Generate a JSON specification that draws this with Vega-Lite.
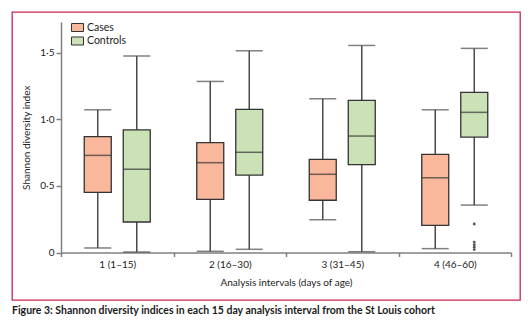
{
  "$schema": "https://vega.github.io/schema/vega-lite/v6.json",
  "width": 508,
  "height": 288,
  "autosize": "none",
  "padding": {"left": 12, "top": 12, "right": 8, "bottom": 22},
  "background": "white",
  "config": {
    "view": {"stroke": "#c9274f", "strokeWidth": 1.3},
    "font": "Lato"
  },
  "title": {
    "text": "Figure 3: Shannon diversity indices in each 15 day analysis interval from the St Louis cohort",
    "orient": "bottom",
    "anchor": "start",
    "fontSize": 10.5,
    "fontWeight": "bold",
    "font": "Lato",
    "color": "#1a1a1a",
    "offset": 6
  },
  "datasets": {
    "boxes": [
      {"interval": "1 (1–15)", "group": "Cases", "lo": 0.034, "q1": 0.452, "med": 0.729, "q3": 0.869, "hi": 1.071},
      {"interval": "1 (1–15)", "group": "Controls", "lo": 0.004, "q1": 0.229, "med": 0.624, "q3": 0.921, "hi": 1.474},
      {"interval": "2 (16–30)", "group": "Cases", "lo": 0.009, "q1": 0.399, "med": 0.674, "q3": 0.824, "hi": 1.284},
      {"interval": "2 (16–30)", "group": "Controls", "lo": 0.024, "q1": 0.581, "med": 0.752, "q3": 1.074, "hi": 1.514},
      {"interval": "3 (31–45)", "group": "Cases", "lo": 0.246, "q1": 0.392, "med": 0.587, "q3": 0.699, "hi": 1.154},
      {"interval": "3 (31–45)", "group": "Controls", "lo": 0.006, "q1": 0.659, "med": 0.874, "q3": 1.142, "hi": 1.554},
      {"interval": "4 (46–60)", "group": "Cases", "lo": 0.029, "q1": 0.204, "med": 0.561, "q3": 0.737, "hi": 1.071},
      {"interval": "4 (46–60)", "group": "Controls", "lo": 0.356, "q1": 0.866, "med": 1.052, "q3": 1.202, "hi": 1.532}
    ],
    "outliers": [
      {"interval": "4 (46–60)", "group": "Controls", "value": 0.214},
      {"interval": "4 (46–60)", "group": "Controls", "value": 0.078},
      {"interval": "4 (46–60)", "group": "Controls", "value": 0.058},
      {"interval": "4 (46–60)", "group": "Controls", "value": 0.040},
      {"interval": "4 (46–60)", "group": "Controls", "value": 0.022}
    ]
  },
  "encoding": {
    "x": {
      "field": "interval",
      "type": "nominal",
      "sort": ["1 (1–15)", "2 (16–30)", "3 (31–45)", "4 (46–60)"],
      "scale": {"range": [49, 499], "paddingInner": 0, "paddingOuter": 0},
      "axis": {
        "title": "Analysis intervals (days of age)",
        "offset": -47.5,
        "labelAngle": 0,
        "tickBand": "extent",
        "tickSize": 4,
        "tickColor": "#808080",
        "tickWidth": 1.5,
        "domainColor": "#808080",
        "domainWidth": 1.5,
        "labelFontSize": 10,
        "labelColor": "#222",
        "labelPadding": 3,
        "titleFontSize": 10,
        "titleFontWeight": "normal",
        "titleColor": "#222",
        "titlePadding": 8
      }
    },
    "xOffset": {
      "field": "group",
      "type": "nominal",
      "sort": ["Cases", "Controls"],
      "scale": {"paddingInner": 0.3077, "paddingOuter": 0.596}
    }
  },
  "layer": [
    {
      "data": {"name": "boxes"},
      "mark": {"type": "rule", "color": "#4a4a4a", "strokeWidth": 1.5},
      "encoding": {
        "y": {
          "field": "lo",
          "type": "quantitative",
          "scale": {"domain": [0, 1.73], "range": [240.5, 10], "nice": false, "zero": true},
          "axis": {
            "title": "Shannon diversity index",
            "offset": -49,
            "values": [0, 0.5, 1, 1.5],
            "labelExpr": "datum.value == 0 ? '0' : replace(format(datum.value, '.1f'), '.', '·')",
            "grid": false,
            "tickSize": 5,
            "tickColor": "#808080",
            "tickWidth": 1.5,
            "domainColor": "#808080",
            "domainWidth": 1.5,
            "labelFontSize": 10,
            "labelColor": "#222",
            "labelPadding": 2,
            "titleFontSize": 10,
            "titleFontWeight": "normal",
            "titleColor": "#222",
            "titlePadding": 8
          }
        },
        "y2": {"field": "hi"}
      }
    },
    {
      "data": {"name": "boxes"},
      "mark": {"type": "tick", "color": "#4a4a4a", "size": 27, "thickness": 1.5},
      "encoding": {"y": {"field": "lo", "type": "quantitative", "title": "Shannon diversity index"}}
    },
    {
      "data": {"name": "boxes"},
      "mark": {"type": "tick", "color": "#4a4a4a", "size": 27, "thickness": 1.5},
      "encoding": {"y": {"field": "hi", "type": "quantitative", "title": "Shannon diversity index"}}
    },
    {
      "data": {"name": "boxes"},
      "mark": {"type": "bar", "stroke": "#333333", "strokeWidth": 1.3},
      "encoding": {
        "y": {"field": "q1", "type": "quantitative", "title": "Shannon diversity index"},
        "y2": {"field": "q3"},
        "fill": {
          "field": "group",
          "type": "nominal",
          "scale": {"domain": ["Cases", "Controls"], "range": ["#f9b79b", "#cbe1b6"]},
          "legend": {
            "orient": "none",
            "legendX": 59,
            "legendY": 9,
            "title": null,
            "padding": 0,
            "symbolType": "M-1,-0.667H1V0.667H-1Z",
            "symbolSize": 144,
            "symbolStrokeColor": "#333333",
            "symbolStrokeWidth": 1,
            "symbolOpacity": 1,
            "labelFontSize": 10.5,
            "labelColor": "#222",
            "labelOffset": 3,
            "rowPadding": 0.5
          }
        }
      }
    },
    {
      "data": {"name": "boxes"},
      "mark": {"type": "tick", "color": "#333333", "size": 27, "thickness": 1.5},
      "encoding": {"y": {"field": "med", "type": "quantitative", "title": "Shannon diversity index"}}
    },
    {
      "data": {"name": "outliers"},
      "mark": {"type": "circle", "color": "#555555", "size": 8, "opacity": 1},
      "encoding": {"y": {"field": "value", "type": "quantitative", "title": "Shannon diversity index"}}
    }
  ]
}
